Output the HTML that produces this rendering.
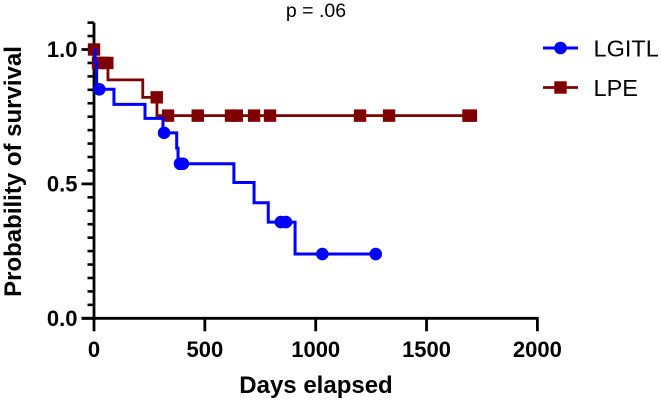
<!DOCTYPE html>
<html>
<head>
<meta charset="utf-8">
<style>
html,body{margin:0;padding:0;background:#fff;width:661px;height:401px;overflow:hidden}
svg{display:block}
text{font-family:"Liberation Sans",Arial,sans-serif;fill:#000}
.tk{font-weight:bold;font-size:22px}
.ttl{font-weight:bold;font-size:24px}
.leg{font-size:23.5px}
</style>
</head>
<body>
<svg id="chart" xmlns="http://www.w3.org/2000/svg" width="661" height="401" viewBox="0 0 661 401"></svg>
<script>
const xTicks = [0, 500, 1000, 1500, 2000];
const yTicks = [0, 0.5, 1.0];
const yTickLabels = ['0.0', '0.5', '1.0'];
const yMinorTicks = [0.05,0.1,0.15,0.2,0.25,0.3,0.35,0.4,0.45,0.55,0.6,0.65,0.7,0.75,0.8,0.85,0.9,0.95,1.05,1.1];
const lgitlTimes = [0, 5, 12, 90, 230, 311, 373, 379, 631, 722, 786, 907, 1271];
const lgitlSurvival = [1.0, 0.95, 0.852, 0.796, 0.744, 0.69, 0.633, 0.575, 0.505, 0.43, 0.358, 0.239, 0.239];
const lgitlCensorTimes = [24, 316, 388, 401, 843, 866, 1030, 1271];
const lpeTimes = [0, 5, 63, 220, 284, 1700];
const lpeSurvival = [1.0, 0.95, 0.887, 0.822, 0.754, 0.754];
const lpeCensorTimes = [0, 18, 40, 60, 283, 334, 468, 618, 644, 722, 794, 1200, 1331, 1689, 1700];

const NS = 'http://www.w3.org/2000/svg';
const svg = document.getElementById('chart');
const X = d => 94 + d * 0.2217;
const Y = p => 318.3 - p * 268.8;
function mk(tag, attrs, parent) {
  const e = document.createElementNS(NS, tag);
  for (const k in attrs) e.setAttribute(k, attrs[k]);
  (parent || svg).appendChild(e);
  return e;
}
function survivalAt(times, vals, t) {
  let v = vals[0];
  for (let i = 0; i < times.length; i++) if (times[i] <= t) v = vals[i];
  return v;
}
function stepPath(times, vals) {
  let d = 'M' + X(times[0]) + ' ' + Y(vals[0]);
  for (let i = 1; i < times.length; i++) {
    d += 'H' + X(times[i]) + 'V' + Y(vals[i]);
  }
  return d;
}

/* axes */
const yAxis = mk('line', {x1:X(0), x2:X(0), y1:Y(1.1), y2:Y(0)+1.2, stroke:'#000', 'stroke-width':2.8});


const xAxis = mk('line', {x1:X(0)-12.5, x2:X(2000)+1.2, y1:Y(0), y2:Y(0), stroke:'#000', 'stroke-width':2.8});



yMinorTicks.forEach(v => {
  const t = mk('line', {x1:X(0)-6.5, x2:X(0), y1:Y(v), y2:Y(v), stroke:'#000', 'stroke-width':2.6});
  
  
});
yTicks.forEach((v, i) => {
  const t = mk('line', {x1:X(0)-12.5, x2:X(0), y1:Y(v), y2:Y(v), stroke:'#000', 'stroke-width':2.8});
  
  
  const l = mk('text', {x:77.5, y:Y(v)+7.5, 'text-anchor':'end', class:'tk'});
  l.textContent = yTickLabels[i];
  
  
});
xTicks.forEach(v => {
  const t = mk('line', {x1:X(v), x2:X(v), y1:Y(0), y2:Y(0)+13, stroke:'#000', 'stroke-width':2.8});
  
  
  const l = mk('text', {x:X(v), y:357, 'text-anchor':'middle', class:'tk'});
  l.textContent = String(v);
  
  
});

/* LPE series */
const lpeLine = mk('path', {d:stepPath(lpeTimes, lpeSurvival), fill:'none', stroke:'#7f0000', 'stroke-width':2.8});


lpeCensorTimes.forEach(t => {
  const y = Y(survivalAt(lpeTimes, lpeSurvival, t));
  const m = mk('rect', {x:X(t)-6.2, y:y-6.2, width:12.4, height:12.4, fill:'#7f0000'});
  
  
});

/* LGITL series */
const lgLine = mk('path', {d:stepPath(lgitlTimes, lgitlSurvival), fill:'none', stroke:'#0000ff', 'stroke-width':3});


lgitlCensorTimes.forEach(t => {
  const y = Y(survivalAt(lgitlTimes, lgitlSurvival, t));
  const m = mk('circle', {cx:X(t), cy:y, r:6.3, fill:'#0000ff'});
  
  
});

/* titles */
const yt = mk('text', {x:0, y:0, transform:'translate(21 171.5) rotate(-90)', 'text-anchor':'middle', class:'ttl'});
yt.textContent = 'Probability of survival';


const xt = mk('text', {x:316, y:393, 'text-anchor':'middle', class:'ttl'});
xt.textContent = 'Days elapsed';


const pv = mk('text', {x:316, y:17, 'text-anchor':'middle', 'font-size':'19.5'});
pv.textContent = 'p = .06';



/* legend */
const lg1 = mk('line', {x1:543, x2:578, y1:48, y2:48, stroke:'#0000ff', 'stroke-width':3});


const lg1m = mk('circle', {cx:560.5, cy:48, r:6.3, fill:'#0000ff'});


const lg1t = mk('text', {x:593.5, y:56.5, class:'leg'});
lg1t.textContent = 'LGITL';


const lg2 = mk('line', {x1:543, x2:578, y1:87.5, y2:87.5, stroke:'#7f0000', 'stroke-width':2.8});


const lg2m = mk('rect', {x:554.3, y:81.3, width:12.4, height:12.4, fill:'#7f0000'});


const lg2t = mk('text', {x:593.5, y:96, class:'leg'});
lg2t.textContent = 'LPE';


</script>
</body>
</html>
